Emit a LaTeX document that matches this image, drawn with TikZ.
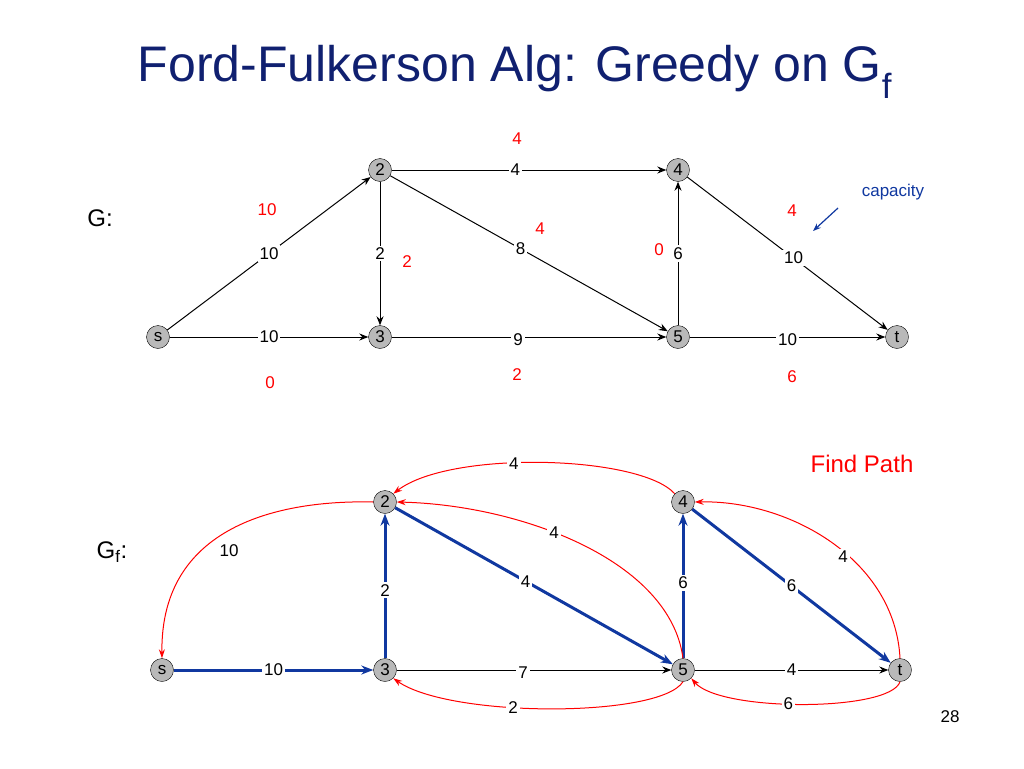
\documentclass[tikz,border=0pt]{standalone}
\usepackage{fontspec}
\setmainfont{Liberation Sans}
\usetikzlibrary{arrows.meta}
\definecolor{ttl}{RGB}{16,32,112}
\definecolor{eblue}{RGB}{16,56,160}
\begin{document}
\begin{tikzpicture}[x=1pt,y=-1pt,
 vx/.style={circle,draw,fill=gray!55,minimum size=23pt,inner sep=0pt,font=\fontsize{17}{17}\selectfont},
 lb/.style={fill=white,inner sep=2pt,font=\fontsize{17}{17}\selectfont},
 rl/.style={text=red,font=\fontsize{17}{17}\selectfont},
 ed/.style={-{Stealth[length=9pt,width=7pt]},line width=1pt},
 be/.style={-{Stealth[length=12pt,width=9pt]},line width=3pt,draw=eblue},
 re/.style={-{Stealth[length=9pt,width=6pt]},line width=1pt,draw=red}]
\useasboundingbox (0,0) rectangle (1024,768);
\node[text=ttl,font=\fontsize{50}{50}\selectfont] (title) at (515,72) {Ford-Fulkerson Alg: Greedy on G\textsubscript{f}};
% top graph
\node[font=\fontsize{24}{24}\selectfont] (g) at (100,218) {G:};
\node[vx] (a2) at (380,170) {2};
\node[vx] (a4) at (678,170) {4};
\node[vx] (as) at (158,337) {s};
\node[vx] (a3) at (380,337) {3};
\node[vx] (a5) at (678,337) {5};
\node[vx] (at) at (897,337) {t};
\draw[ed] (a2) -- node[lb,pos=0.45]{4} (a4);
\draw[ed] (a2) -- node[lb,pos=0.47]{8} (a5);
\draw[ed] (a2) -- node[lb]{2} (a3);
\draw[ed] (as) -- node[lb,pos=0.5]{10} (a2);
\draw[ed] (as) -- node[lb]{10} (a3);
\draw[ed] (a3) -- node[lb,pos=0.46,yshift=-3pt]{9} (a5);
\draw[ed] (a5) -- node[lb]{6} (a4);
\draw[ed] (a4) -- node[lb,pos=0.53]{10} (at);
\draw[ed] (a5) -- node[lb,yshift=-3pt]{10} (at);
\node[rl] (r1) at (517,139) {4};
\node[rl] (r2) at (540,229) {4};
\node[rl] (r3) at (407,262) {2};
\node[rl] (r4) at (267,210) {10};
\node[rl] (r5) at (270,383) {0};
\node[rl] (r6) at (517,375) {2};
\node[rl] (r7) at (659,250) {0};
\node[rl] (r8) at (792,211) {4};
\node[rl] (r9) at (792,377) {6};
\node[text=eblue,font=\fontsize{17}{17}\selectfont] (cap) at (893,192) {capacity};
\coordinate (c1) at (838,208);
\coordinate (c2) at (813,231);
\draw[-{Stealth[length=8pt,width=6pt]},line width=1.2pt,draw=eblue] (c1) -- (c2);
% bottom graph
\node[font=\fontsize{24}{24}\selectfont] (gf) at (112,552) {G\textsubscript{f}:};
\node[vx] (b2) at (385,502) {2};
\node[vx] (b4) at (683,502) {4};
\node[vx] (bs) at (162,670) {s};
\node[vx] (b3) at (385,670) {3};
\node[vx] (b5) at (683,670) {5};
\node[vx] (bt) at (900,670) {t};
\draw[be] (bs) -- node[lb]{10} (b3);
\draw[be] (b3) -- node[lb,pos=0.47]{2} (b2);
\draw[be] (b2) -- node[lb,pos=0.47]{4} (b5);
\draw[be] (b5) -- node[lb,pos=0.52]{6} (b4);
\draw[be] (b4) -- node[lb,pos=0.5]{6} (bt);
\draw[ed] (b3) -- node[lb,pos=0.46,yshift=-3pt]{7} (b5);
\draw[ed] (b5) -- node[lb]{4} (bt);
\draw[re] (b4.north west) .. controls (640,455) and (450,450) .. node[lb,pos=0.58]{4} (b2.north east);
\draw[re] (b5.north) .. controls (670,560) and (520,505) .. node[lb,pos=0.58]{4} (b2.east);
\draw[re] (b2.west) .. controls (290,500) and (160,520) .. (bs.north);
\node[font=\fontsize{17}{17}\selectfont] (l10) at (229,551) {10};
\draw[re] (bt.north) .. controls (895,560) and (790,500) .. (b4.east);
\node[lb] (l4t) at (843,557) {4};
\draw[re] (b5.south) .. controls (660,718) and (450,718) .. node[lb,pos=0.6]{2} (b3.south east);
\draw[re] (bt.south) .. controls (890,712) and (720,712) .. node[lb,pos=0.55]{6} (b5.south east);
\node[text=red,font=\fontsize{24}{24}\selectfont] (fp) at (862,464) {Find Path};
\node[font=\fontsize{17}{17}\selectfont] (pg) at (950,717) {28};
\end{tikzpicture}
\end{document}
